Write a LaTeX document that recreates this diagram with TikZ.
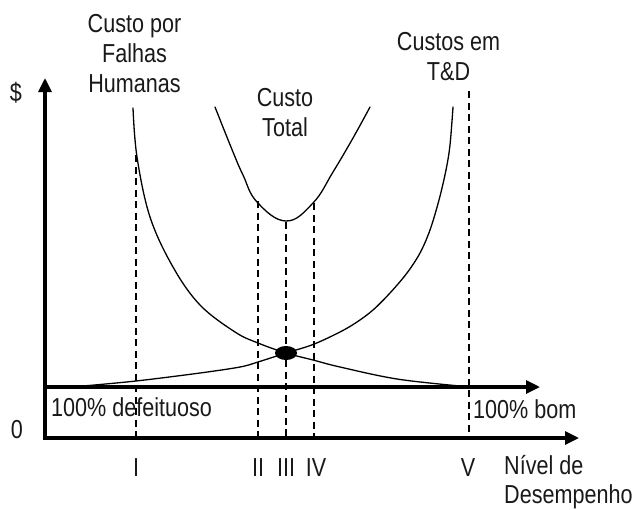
\documentclass[tikz,border=0pt]{standalone}
\usepackage{fontspec}
\setmainfont{Liberation Sans}[FakeStretch=0.83]
\usetikzlibrary{arrows.meta}
\begin{document}
\begin{tikzpicture}[x=1pt,y=-1pt,
  lbl/.style={font=\fontsize{26}{30}\selectfont, inner sep=0pt, align=center, text=black!90},
  axisline/.style={line width=3.2pt, -{Triangle[length=14pt,width=13pt]}},
  curveline/.style={line width=1.3pt, line cap=round},
  guide/.style={line width=1.3pt, dash pattern=on 7pt off 4.5pt}]
\useasboundingbox (0,0) rectangle (637,509);
% guide lines
\draw[guide] (136,155) -- (136,438);
\draw[guide] (258,201) -- (258,438);
\draw[guide] (286,222) -- (286,438);
\draw[guide] (314,203) -- (314,438);
\draw[guide] (469,91) -- (469,438);
% axes
\draw[axisline] (45,438) -- (45,78);
\draw[axisline] (43.4,438) -- (579,438);
\draw[axisline] (45,387) -- (540,387);
% curves
\draw[curveline] plot[smooth, tension=0.6] coordinates
  {(133,108) (137,157) (150,217) (173,267) (200,305) (235,332) (258,343) (286,353) (313,360) (340,367) (397,379) (460,386)};
\draw[curveline] plot[smooth, tension=0.55] coordinates
  {(83,386) (136,381) (200,373) (240,367) (258,362) (286,353) (313,344.5) (340,332) (357,322) (373,310) (390,293) (407,273) (420,253) (430,230) (439,200) (446,170) (450,145) (453,107)};
\draw[curveline] plot[smooth, tension=0.7] coordinates
  {(215,107) (233,152) (243,175) (257,202) (286,221) (313,203) (333,172) (353,138) (370,107)};
\fill (286,353) ellipse [x radius=11pt, y radius=7pt];
% labels (anchor base = baseline of the last line)
\node[lbl, anchor=base] (falhas) at (134.5,92) {Custo por\\Falhas\\Humanas};
\node[lbl, anchor=base] (total) at (285,136) {Custo\\Total};
\node[lbl, anchor=base] (td) at (448.5,80) {Custos em\\T\&D};
\node[lbl, anchor=base] (dollar) at (16,101) {\$};
\node[lbl, anchor=base] (zero) at (17,438) {0};
\node[lbl, anchor=base west] (def) at (51,416) {100\% defeituoso};
\node[lbl, anchor=base west] (bom) at (473,418) {100\% bom};
\node[lbl, anchor=base] (r1) at (136,476) {I};
\node[lbl, anchor=base] (r2) at (258,476) {II};
\node[lbl, anchor=base] (r3) at (286,476) {III};
\node[lbl, anchor=base] (r4) at (316,476) {IV};
\node[lbl, anchor=base] (r5) at (468,476) {V};
\node[lbl, anchor=base west, align=left, font=\fontsize{26}{28.5}\selectfont] (nivel) at (504,503) {Nível de\\Desempenho};
\end{tikzpicture}
\end{document}
